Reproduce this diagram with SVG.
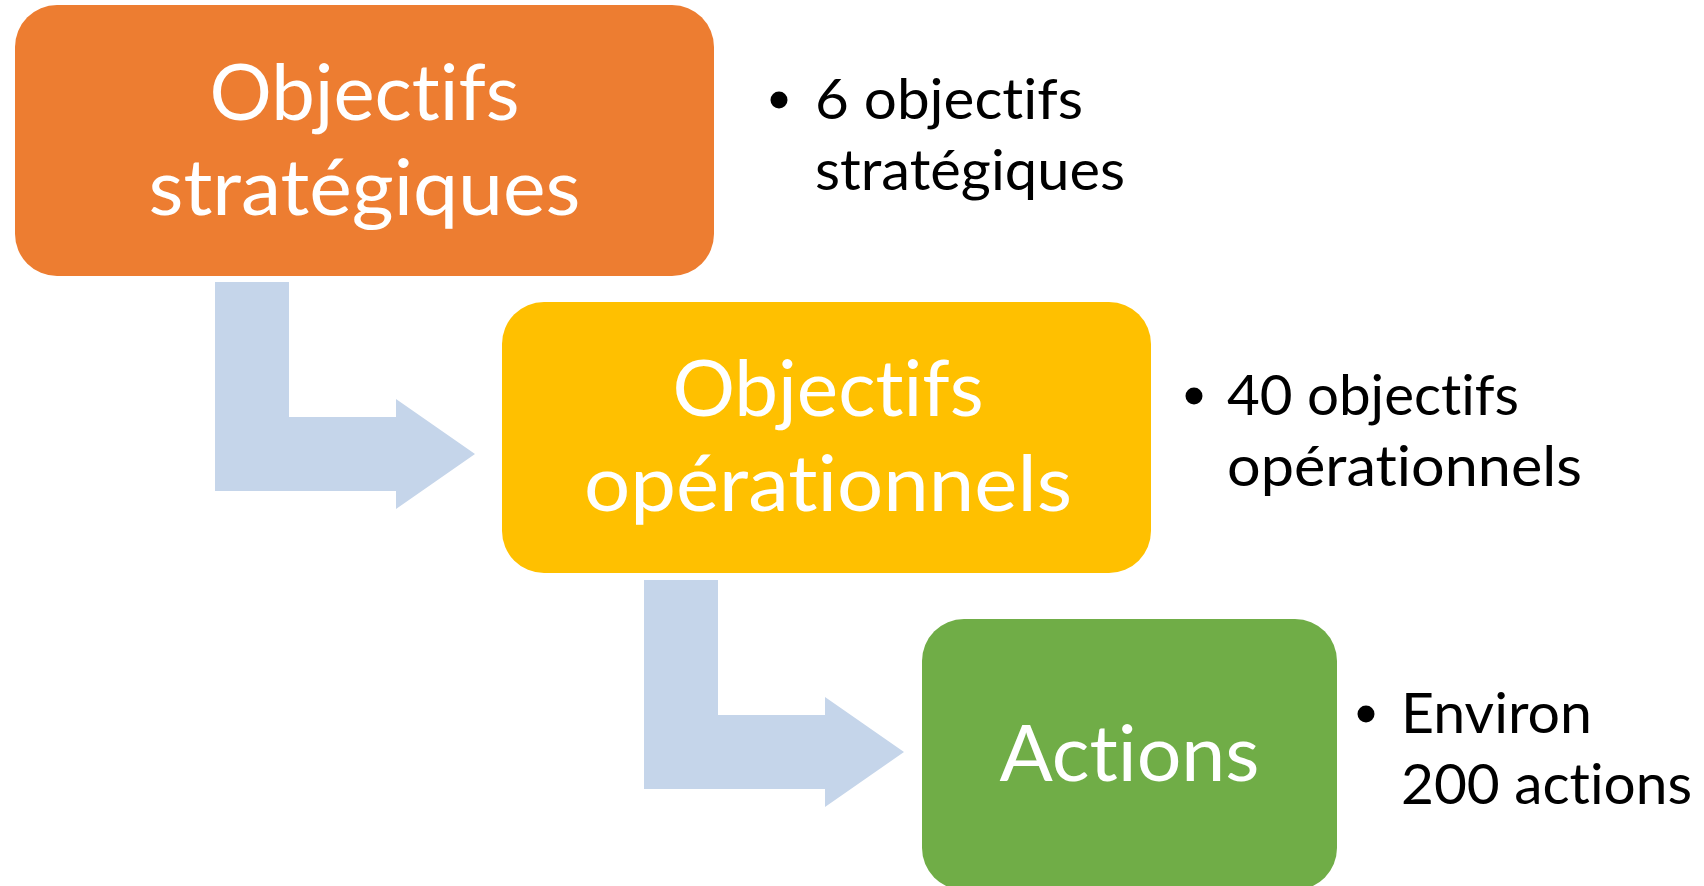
<svg xmlns="http://www.w3.org/2000/svg" width="1704" height="886" viewBox="0 0 1704 886">
  <style>
    .box-label { font-family: Lato, "Open Sans", "Liberation Sans", sans-serif; font-size: 77px; fill: #FFFFFF; text-anchor: middle; font-variant-ligatures: none; font-feature-settings: "liga" 0, "clig" 0; }
    .note { font-family: Lato, "Open Sans", "Liberation Sans", sans-serif; font-size: 56px; fill: #000000; font-variant-ligatures: none; font-feature-settings: "liga" 0, "clig" 0; }
    .bullet { fill: #000000; }
    .arrow { fill: #C5D5EA; stroke: none; }
  </style>
  <rect x="0" y="0" width="1704" height="886" fill="#FFFFFF"/>

  <g id="connectors">
    <path class="arrow" d="M215,282 H289 V417 H396 V399 L475,454 L396,509 V491 H215 Z"/>
    <path class="arrow" d="M644,580 H718 V715 H825 V697 L904,752 L825,807 V789 H644 Z"/>
  </g>

  <g id="node-objectifs-strategiques">
    <rect x="15" y="5" width="699" height="271" rx="42" ry="42" fill="#ED7D31"/>
    <text class="box-label" x="364.5" y="120" textLength="310" lengthAdjust="spacingAndGlyphs">Objectifs</text>
    <text class="box-label" x="364.5" y="215" textLength="432" lengthAdjust="spacingAndGlyphs">stratégiques</text>
  </g>

  <g id="node-objectifs-operationnels">
    <rect x="502" y="302" width="649" height="271" rx="42" ry="42" fill="#FFC000"/>
    <text class="box-label" x="828" y="416" textLength="311" lengthAdjust="spacingAndGlyphs">Objectifs</text>
    <text class="box-label" x="828" y="511" textLength="488" lengthAdjust="spacingAndGlyphs">opérationnels</text>
  </g>

  <g id="node-actions">
    <rect x="922" y="619" width="415" height="271" rx="42" ry="42" fill="#70AD47"/>
    <text class="box-label" x="1129.5" y="781" textLength="260" lengthAdjust="spacingAndGlyphs">Actions</text>
  </g>

  <g id="note-strategiques">
    <circle class="bullet" cx="779" cy="100" r="8.5"/>
    <text class="note" x="815" y="119" textLength="268" lengthAdjust="spacingAndGlyphs">6 objectifs</text>
    <text class="note" x="815" y="190" textLength="310" lengthAdjust="spacingAndGlyphs">stratégiques</text>
  </g>

  <g id="note-operationnels">
    <circle class="bullet" cx="1194" cy="396" r="8.5"/>
    <text class="note" x="1227" y="415" textLength="292" lengthAdjust="spacingAndGlyphs">40 objectifs</text>
    <text class="note" x="1227" y="486" textLength="355" lengthAdjust="spacingAndGlyphs">opérationnels</text>
  </g>

  <g id="note-actions">
    <circle class="bullet" cx="1366" cy="714" r="8.5"/>
    <text class="note" x="1401" y="733" textLength="191" lengthAdjust="spacingAndGlyphs">Environ</text>
    <text class="note" x="1401" y="804" textLength="291" lengthAdjust="spacingAndGlyphs">200 actions</text>
  </g>
</svg>
